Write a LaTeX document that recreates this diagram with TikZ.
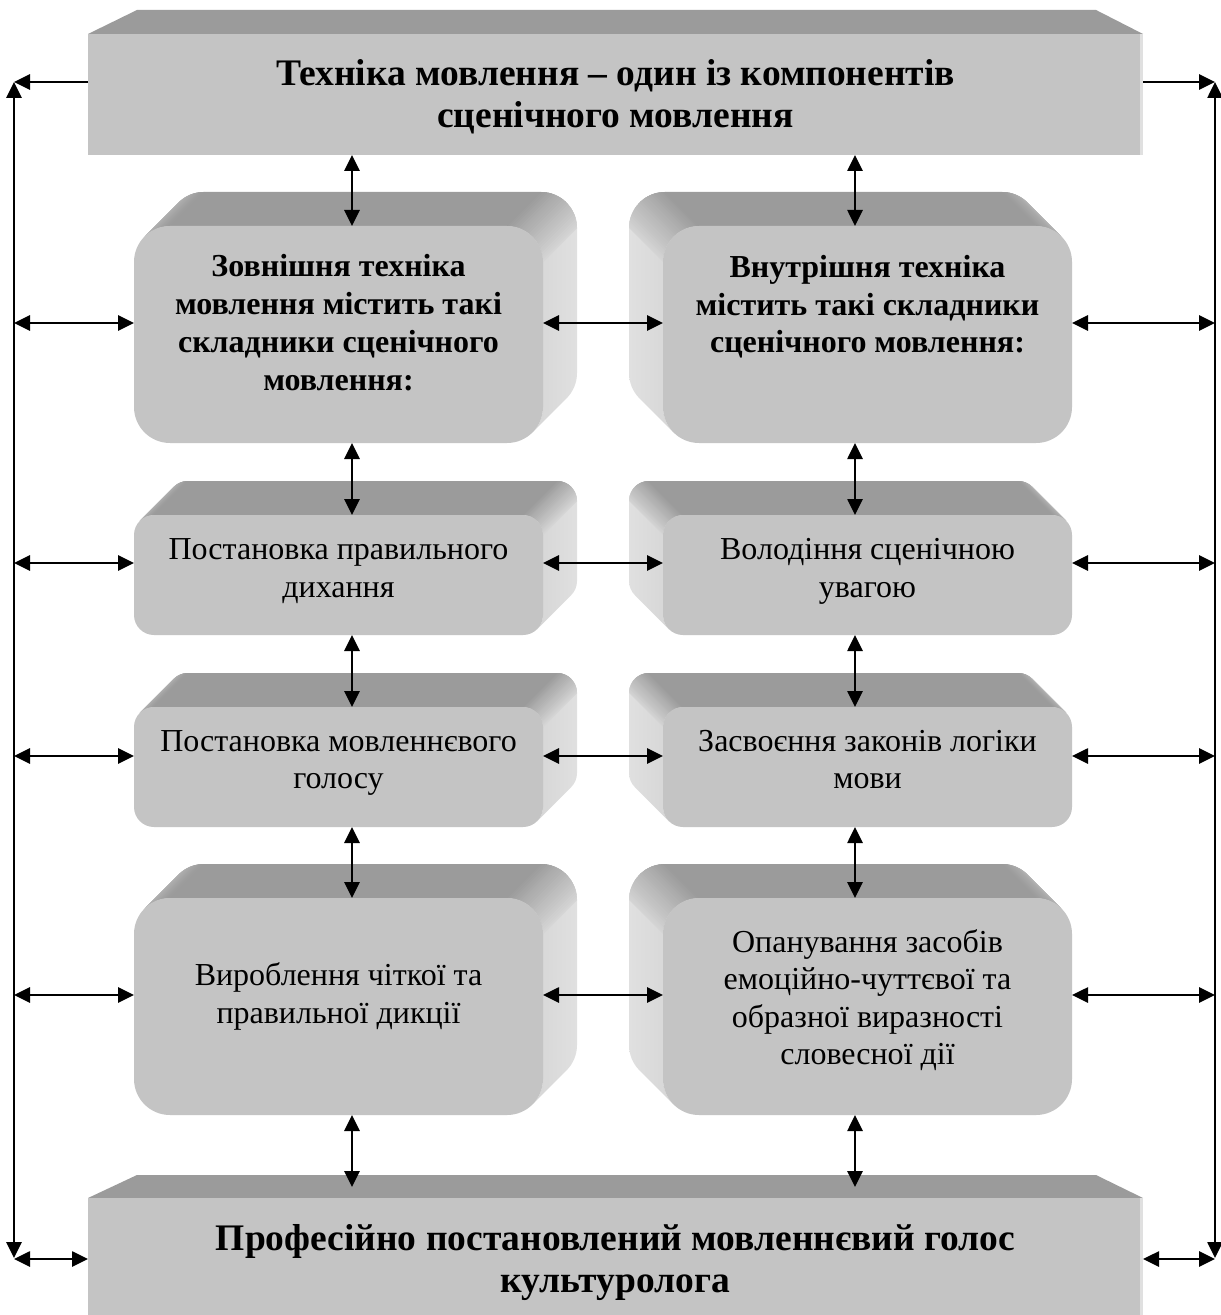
\documentclass[tikz,border=0pt]{standalone}
\usepackage{fontspec}
\setmainfont{Liberation Serif}
\usetikzlibrary{arrows.meta}
\definecolor{frontc}{HTML}{C4C4C4}
\definecolor{topc}{HTML}{9B9B9B}
\definecolor{sidec}{HTML}{E0E0E0}
\definecolor{sidecd}{HTML}{D6D6D6}
\definecolor{cornc}{HTML}{B9B9B9}
% strips that shade a rounded corner swept along the depth
% #1 cx, #2 cy, #3 r, #4 dx, #5 angle0, #6 angle1, #7 colour at angle0, #8 colour at angle1
\newcommand\cstrip[8]{%
  \foreach \ii in {0,...,23}{%
    \pgfmathsetmacro\ta{#5+(#6-#5)*\ii/24}%
    \pgfmathsetmacro\tb{#5+(#6-#5)*min(\ii+1.7,24)/24}%
    \pgfmathsetmacro\px{#1+#3*cos(\ta)}%
    \pgfmathsetmacro\py{#2+#3*sin(\ta)}%
    \pgfmathtruncatemacro\pp{100-100*(\ii+0.5)/24}%
    \fill[#7!\pp!#8]
      (\px,\py) arc[start angle=\ta,end angle=\tb,radius=#3]
      -- ++(#4,-34) arc[start angle=\tb,end angle=\ta,radius=#3] -- cycle;
  }%
}
% #1 x1, #2 y1, #3 x2, #4 y2, #5 corner radius, #6 direction of depth (+1 right, -1 left)
\newcommand\bevbox[6]{%
  \pgfmathsetmacro\bk{#5*(1-0.70710678)}%
  \pgfmathsetmacro\bd{#6*34}%
  \pgfmathsetmacro\cxl{#1+#5}%
  \pgfmathsetmacro\cxr{#3-#5}%
  \pgfmathsetmacro\cyt{#2+#5}%
  \fill[topc] (#1+\bk,#2+\bk) arc[start angle=225,end angle=270,radius=#5]
    -- (#3-#5,#2) arc[start angle=270,end angle=315,radius=#5]
    -- ++(\bd,-34) arc[start angle=315,end angle=270,radius=#5]
    -- (#1+#5+\bd,#2-34) arc[start angle=270,end angle=225,radius=#5] -- cycle;
  \ifnum#6>0
    \shade[left color=sidecd,right color=sidec] (#3-\bk,#2+\bk) arc[start angle=315,end angle=360,radius=#5]
      -- (#3,#4-#5) arc[start angle=0,end angle=45,radius=#5]
      -- ++(34,-34) arc[start angle=45,end angle=0,radius=#5]
      -- (#3+34,#2+#5-34) arc[start angle=360,end angle=315,radius=#5] -- cycle;
    \cstrip{\cxl}{\cyt}{#5}{34}{225}{270}{cornc}{topc}
    \cstrip{\cxr}{\cyt}{#5}{34}{270}{360}{topc}{sidecd}
  \else
    \shade[left color=sidec,right color=sidecd] (#1+\bk,#4-\bk) arc[start angle=135,end angle=180,radius=#5]
      -- (#1,#2+#5) arc[start angle=180,end angle=225,radius=#5]
      -- ++(-34,-34) arc[start angle=225,end angle=180,radius=#5]
      -- (#1-34,#4-#5-34) arc[start angle=180,end angle=135,radius=#5] -- cycle;
    \cstrip{\cxl}{\cyt}{#5}{-34}{180}{270}{sidecd}{topc}
    \cstrip{\cxr}{\cyt}{#5}{-34}{270}{315}{topc}{cornc}
  \fi
  \fill[frontc] (#1,#2+#5) arc[start angle=180,end angle=270,radius=#5]
    -- (#3-#5,#2) arc[start angle=270,end angle=360,radius=#5]
    -- (#3,#4-#5) arc[start angle=0,end angle=90,radius=#5]
    -- (#1+#5,#4) arc[start angle=90,end angle=180,radius=#5] -- cycle;
}
\tikzset{
  txtb/.style={align=center,inner sep=0pt,font=\fontsize{16}{18.85}\selectfont\bfseries},
  txtr/.style={align=center,inner sep=0pt,font=\fontsize{16}{18.75}\selectfont},
  ttl/.style={align=center,inner sep=0pt,font=\fontsize{18.75}{21}\selectfont\bfseries},
  dbl/.style={<->,line width=1.35pt},
  sgl/.style={->,line width=1.35pt}
}
\begin{document}
\begin{tikzpicture}[x=0.5pt,y=-0.5pt,>={Triangle[length=8pt,width=7.5pt]}]
\useasboundingbox (0,0) rectangle (1220,1315);
\fill[white] (0,0) rectangle (1220,1315);
% top box
\fill[topc] (88,34) -- (137,10) -- (1096,10) -- (1143,34) -- cycle;
\fill[frontc] (88,34) rectangle (1143,155);
\fill[sidec] (1140,34) rectangle (1143,155);
\node[ttl] (top) at (615.5,98.6) {\strut Техніка мовлення – один із компонентів\\\strut сценічного мовлення};
% bottom box
\fill[topc] (88,1198) -- (137,1175) -- (1096,1175) -- (1143,1198) -- cycle;
\fill[frontc] (88,1198) rectangle (1143,1315);
\fill[sidec] (1140,1198) rectangle (1143,1315);
\node[ttl] (bot) at (615.5,1263.5) {\strut Професійно постановлений мовленнєвий голос\\\strut культуролога};
% beveled boxes
\bevbox{134}{226}{543}{443}{36}{1}
\bevbox{663}{226}{1072}{443}{36}{-1}
\bevbox{134}{515}{543}{635}{20}{1}
\bevbox{663}{515}{1072}{635}{20}{-1}
\bevbox{134}{707}{543}{827}{20}{1}
\bevbox{663}{707}{1072}{827}{20}{-1}
\bevbox{134}{898}{543}{1115}{36}{1}
\bevbox{663}{898}{1072}{1115}{36}{-1}
\node[txtb] (L1) at (338.5,326) {\strut Зовнішня техніка\\\strut мовлення містить такі\\\strut складники сценічного\\\strut мовлення:};
\node[txtb] (R1) at (867.5,307.5) {\strut Внутрішня техніка\\\strut містить такі складники\\\strut сценічного мовлення:};
\node[txtr] (L2) at (338.5,571) {\strut Постановка правильного\\\strut дихання};
\node[txtr] (R2) at (867.5,571) {\strut Володіння сценічною\\\strut увагою};
\node[txtr] (L3) at (338.5,762.5) {\strut Постановка мовленнєвого\\\strut голосу};
\node[txtr] (R3) at (867.5,762.5) {\strut Засвоєння законів логіки\\\strut мови};
\node[txtr] (L4) at (338.5,997) {\strut Вироблення чіткої та\\\strut правильної дикції};
\node[txtr] (R4) at (867.5,1001) {\strut Опанування засобів\\\strut емоційно-чуттєвої та\\\strut образної виразності\\\strut словесної дії};
% connection points
\coordinate (topW) at (88,82);
\coordinate (topE) at (1143,82);
\coordinate (botW) at (88,1259);
\coordinate (botE) at (1143,1259);
\coordinate (lineLt) at (14,82);
\coordinate (lineLb) at (14,1258);
\coordinate (lineRt) at (1215,82);
\coordinate (lineRb) at (1215,1258);
\coordinate (cornLb) at (14,1259);
\coordinate (cornRb) at (1215,1259);
\foreach \r/\y in {1/323,2/563,3/756,4/995}{
  \coordinate (LL\r) at (14,\y);
  \coordinate (L\r w) at (134,\y);
  \coordinate (L\r e) at (543,\y);
  \coordinate (R\r w) at (663,\y);
  \coordinate (R\r e) at (1072,\y);
  \coordinate (RR\r) at (1215,\y);
}
\foreach \k/\ya/\yb in {0/155/226,1/443/515,2/635/707,3/827/898,4/1115/1187}{
  \coordinate (VLa\k) at (352,\ya);
  \coordinate (VLb\k) at (352,\yb);
  \coordinate (VRa\k) at (855,\ya);
  \coordinate (VRb\k) at (855,\yb);
}
% connectors
\draw[sgl] (topW) -- (lineLt);
\draw[sgl] (topE) -- (lineRt);
\draw[dbl] (lineLt) -- (lineLb);
\draw[dbl] (lineRt) -- (lineRb);
\draw[dbl] (cornLb) -- (botW);
\draw[dbl] (botE) -- (cornRb);
\foreach \r in {1,2,3,4}{
  \draw[dbl] (LL\r) -- (L\r w);
  \draw[dbl] (L\r e) -- (R\r w);
  \draw[dbl] (R\r e) -- (RR\r);
}
\foreach \k in {0,1,2,3,4}{
  \draw[dbl] (VLa\k) -- (VLb\k);
  \draw[dbl] (VRa\k) -- (VRb\k);
}
\end{tikzpicture}
\end{document}
